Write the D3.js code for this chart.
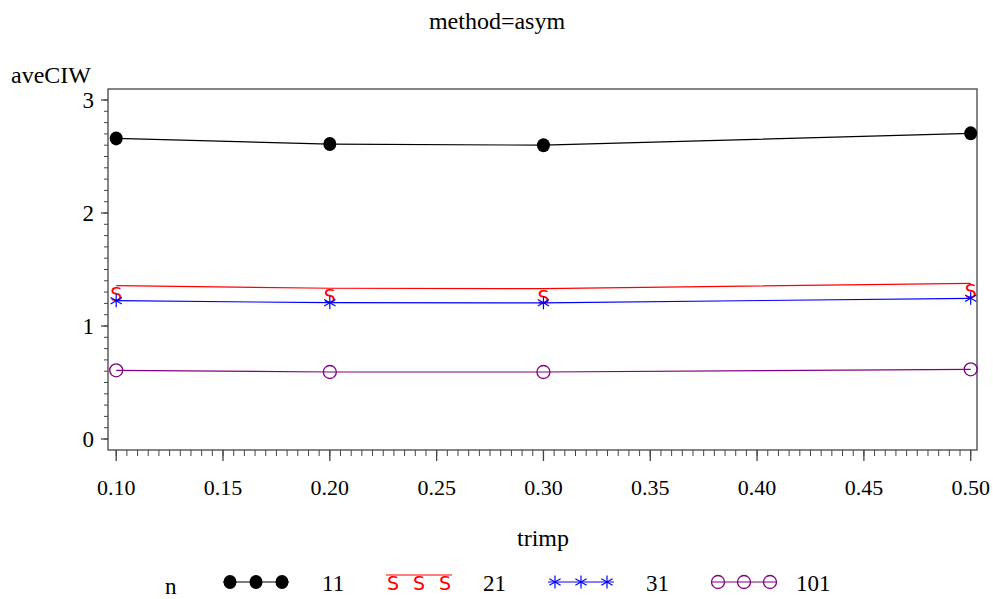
<!DOCTYPE html>
<html>
<head>
<meta charset="utf-8">
<script src="https://cdn.jsdelivr.net/npm/d3@7"></script>
<style>
  body { margin: 0; background: #fff; }
</style>
</head>
<body>
<div id="chart"></div>
<script>
// Data
let trimp = [0.10, 0.20, 0.30, 0.50];
let n11 = [2.66, 2.61, 2.60, 2.705];
let n21 = [1.357, 1.334, 1.330, 1.378];
let n31 = [1.224, 1.206, 1.205, 1.245];
let n101 = [0.608, 0.593, 0.593, 0.617];
let seriesNames = ['11', '21', '31', '101'];
let xTicks = [0.10, 0.15, 0.20, 0.25, 0.30, 0.35, 0.40, 0.45, 0.50];
let yTicks = [0, 1, 2, 3];

let W = 993, H = 599;
let pLeft = 108, pRight = 977, pTop = 89, pBottom = 450;
let serif = '"Liberation Serif", "Times New Roman", Times, serif';

let x = d3.scaleLinear().domain([0.09616, 0.50295]).range([pLeft, pRight]);
let y = d3.scaleLinear().domain([-0.0973, 3.0973]).range([pBottom, pTop]);

let svg = d3.select('#chart').append('svg')
    .attr('width', W)
    .attr('height', H)
    .attr('font-family', serif);

// Frame
svg.append('rect')
    .attr('x', pLeft).attr('y', pTop)
    .attr('width', pRight - pLeft).attr('height', pBottom - pTop)
    .attr('fill', 'none').attr('stroke', '#444').attr('stroke-width', 1.3);

// X axis: major + minor ticks
let xMinor = d3.range(0, 81).map(i => +(0.10 + i * 0.005).toFixed(3));
let xAxis = svg.append('g').attr('transform', 'translate(0,' + pBottom + ')');
xAxis.selectAll('line.minor')
    .data(xMinor)
    .enter().append('line')
    .attr('x1', d => x(d)).attr('x2', d => x(d))
    .attr('y1', 0).attr('y2', 6)
    .attr('stroke', '#444');
xAxis.selectAll('line.major')
    .data(xTicks)
    .enter().append('line')
    .attr('x1', d => x(d)).attr('x2', d => x(d))
    .attr('y1', 0).attr('y2', 11)
    .attr('stroke', '#444').attr('stroke-width', 1.3);
xAxis.selectAll('text')
    .data(xTicks)
    .enter().append('text')
    .attr('x', d => x(d))
    .attr('y', 45)
    .attr('text-anchor', 'middle')
    .attr('font-family', serif)
    .attr('font-size', 22)
    .text(d => d3.format('.2f')(d));

// Y axis: major + minor ticks
let yMinor = d3.range(0, 31).map(i => i / 10);
let yAxis = svg.append('g').attr('transform', 'translate(' + pLeft + ',0)');
yAxis.selectAll('line.minor')
    .data(yMinor)
    .enter().append('line')
    .attr('x1', -4).attr('x2', 0)
    .attr('y1', d => y(d)).attr('y2', d => y(d))
    .attr('stroke', '#444');
yAxis.selectAll('line.major')
    .data(yTicks)
    .enter().append('line')
    .attr('x1', -7).attr('x2', 0)
    .attr('y1', d => y(d)).attr('y2', d => y(d))
    .attr('stroke', '#444').attr('stroke-width', 1.3);
yAxis.selectAll('text')
    .data(yTicks)
    .enter().append('text')
    .attr('x', -14)
    .attr('y', d => y(d) + 8)
    .attr('text-anchor', 'end')
    .attr('font-family', serif)
    .attr('font-size', 23)
    .text(d => d);

// Titles
svg.append('text')
    .attr('x', 497).attr('y', 29)
    .attr('text-anchor', 'middle')
    .attr('font-family', serif)
    .attr('font-size', 24)
    .text('method=asym');
svg.append('text')
    .attr('x', 11).attr('y', 83)
    .attr('font-family', serif)
    .attr('font-size', 24)
    .text('aveCIW');
svg.append('text')
    .attr('x', 543).attr('y', 546)
    .attr('text-anchor', 'middle')
    .attr('font-family', serif)
    .attr('font-size', 24)
    .text('trimp');

// Marker drawing helpers
function drawMarker(g, kind, cx, cy, color) {
    if (kind === 'dot') {
        g.append('ellipse').attr('cx', cx).attr('cy', cy)
            .attr('rx', 6.5).attr('ry', 7).attr('fill', color);
    } else if (kind === 'S') {
        g.append('text').attr('x', cx).attr('y', cy + 15)
            .attr('text-anchor', 'middle')
            .attr('font-family', '"DejaVu Sans", sans-serif')
            .attr('font-size', 19)
            .attr('fill', color)
            .text('S');
    } else if (kind === 'star') {
        let r = 6.5;
        [90, 30, -30].forEach(a => {
            let rad = a * Math.PI / 180;
            g.append('line')
                .attr('x1', cx - r * Math.cos(rad)).attr('y1', cy - r * Math.sin(rad))
                .attr('x2', cx + r * Math.cos(rad)).attr('y2', cy + r * Math.sin(rad))
                .attr('stroke', color).attr('stroke-width', 1.2);
        });
    } else if (kind === 'circle') {
        g.append('circle').attr('cx', cx).attr('cy', cy).attr('r', 6.5)
            .attr('fill', 'none').attr('stroke', color).attr('stroke-width', 1.3);
    }
}

let series = [
    { vals: n11, color: '#000000', kind: 'dot' },
    { vals: n21, color: '#ff0000', kind: 'S' },
    { vals: n31, color: '#0000ff', kind: 'star' },
    { vals: n101, color: '#800080', kind: 'circle' }
];

let line = d3.line()
    .x(d => x(d[0]))
    .y(d => y(d[1]));

series.forEach(s => {
    let pts = trimp.map((t, i) => [t, s.vals[i]]);
    let g = svg.append('g');
    g.append('path')
        .datum(pts)
        .attr('d', line)
        .attr('fill', 'none')
        .attr('stroke', s.color)
        .attr('stroke-width', 1.2);
    pts.forEach(p => drawMarker(g, s.kind, x(p[0]), y(p[1]), s.color));
});

// Legend
let legY = 582;
svg.append('text')
    .attr('x', 165).attr('y', 594)
    .attr('font-family', serif)
    .attr('font-size', 23)
    .text('n');
let legStart = [223, 386, 548, 711];
let legTextX = [322, 483, 646, 796];
series.forEach((s, i) => {
    let g = svg.append('g');
    let x0 = legStart[i], x1 = x0 + 66;
    let ly = s.kind === 'S' ? legY - 7 : legY;
    g.append('line')
        .attr('x1', x0).attr('x2', x1)
        .attr('y1', ly).attr('y2', ly)
        .attr('stroke', s.color).attr('stroke-width', 1.2);
    [x0 + 7, x0 + 33, x0 + 59].forEach(cx => {
        drawMarker(g, s.kind, cx, ly, s.color);
    });
    svg.append('text')
        .attr('x', legTextX[i]).attr('y', 591)
        .attr('font-family', serif)
        .attr('font-size', 23)
        .text(seriesNames[i]);
});
</script>
</body>
</html>
